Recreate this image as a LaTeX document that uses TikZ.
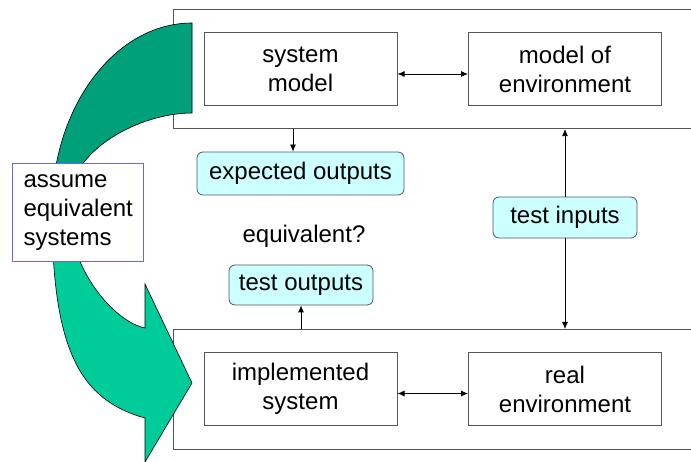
\documentclass[tikz,border=0pt]{standalone}
\usepackage{fontspec}
\setmainfont{Liberation Sans}
\usetikzlibrary{arrows.meta}
\definecolor{arrowdark}{HTML}{00A07A}
\definecolor{arrowlight}{HTML}{00CC99}
\definecolor{notefill}{HTML}{CCFFFF}
\definecolor{noteline}{HTML}{6666EE}
\definecolor{boxline}{HTML}{555555}
% outline of the bent "assume equivalent systems" arrow
\newcommand{\bendarrowpath}{(192,23) -- (192,113)
  .. controls (140,113) and (68,150) .. (68,205)
  .. controls (68,270) and (115,322) .. (145,328)
  -- (145,284) -- (192,383) -- (145,462) -- (145,418)
  .. controls (80,400) and (52,350) .. (52,210)
  .. controls (52,107) and (115,23) .. (192,23) -- cycle}
\begin{document}
\begin{tikzpicture}[x=1pt,y=-1pt,font=\fontsize{24}{29}\selectfont,
  frame/.style={draw=boxline,line width=1.1pt,anchor=north west,inner sep=0pt},
  block/.style={draw=boxline,line width=1pt,fill=white,minimum width=193pt,
    minimum height=73pt,align=center,inner sep=0pt},
  tag/.style={draw=boxline,fill=notefill,rounded corners=6pt,inner sep=0pt,line width=0.8pt},
  link/.style={line width=0.8pt,-{Latex[length=7pt,width=6pt]}},
  both/.style={line width=0.8pt,{Latex[length=7pt,width=6pt]}-{Latex[length=7pt,width=6pt]}}]
\useasboundingbox (0,0) rectangle (691,462);
\clip (0,0) rectangle (691,462);

% model world and real world frames
\node[frame,minimum width=540pt,minimum height=119pt] (upper) at (173,9) {};
\node[frame,minimum width=540pt,minimum height=120pt] (lower) at (173,329) {};

% bent arrow: lighter lower half, darker upper half
\fill[arrowlight] \bendarrowpath;
\begin{scope}
  \clip (0,0) rectangle (691,212);
  \fill[arrowdark] \bendarrowpath;
\end{scope}
\draw[black,line width=0.6pt] \bendarrowpath;

\node[draw=noteline,fill=white,line width=1pt,anchor=north west,minimum width=131pt,
  minimum height=98pt,text width=109pt,align=left,inner xsep=11pt,inner ysep=0pt]
  (assume) at (12,163) {assume\\equivalent\\systems};

% inner blocks
\node[block] (sysmodel) at (300.5,69.5) {system\\model};
\node[block] (envmodel) at (565,69.5) {model of\\environment};
\node[block] (impl) at (300.5,389) {implemented\\system};
\node[block] (realenv) at (565,389) {real\\environment};

% data tags
\node[tag,minimum width=207pt,minimum height=43pt] (expected) at (300.5,173.5) {expected outputs};
\node[tag,minimum width=144pt,minimum height=41pt] (inputs) at (565,217.5) {test inputs};
\node[tag,minimum width=144pt,minimum height=40pt] (outputs) at (301,285) {test outputs};
\node (question) at (304,236) {equivalent?};

% connectors
\draw[both] ([yshift=-4.5pt]sysmodel.east) -- ([yshift=-4.5pt]envmodel.west);
\draw[both] ([yshift=-4.5pt]impl.east) -- ([yshift=-4.5pt]realenv.west);
\coordinate (eoin) at ([xshift=-7.5pt]expected.north);
\draw[link] (upper.south -| eoin) -- (eoin);
\draw[link] (inputs.north) -- (inputs.north |- upper.south);
\draw[link] (inputs.south) -- (inputs.south |- lower.north);
\draw[link] (lower.north -| outputs.south) -- (outputs.south);
\end{tikzpicture}
\end{document}
